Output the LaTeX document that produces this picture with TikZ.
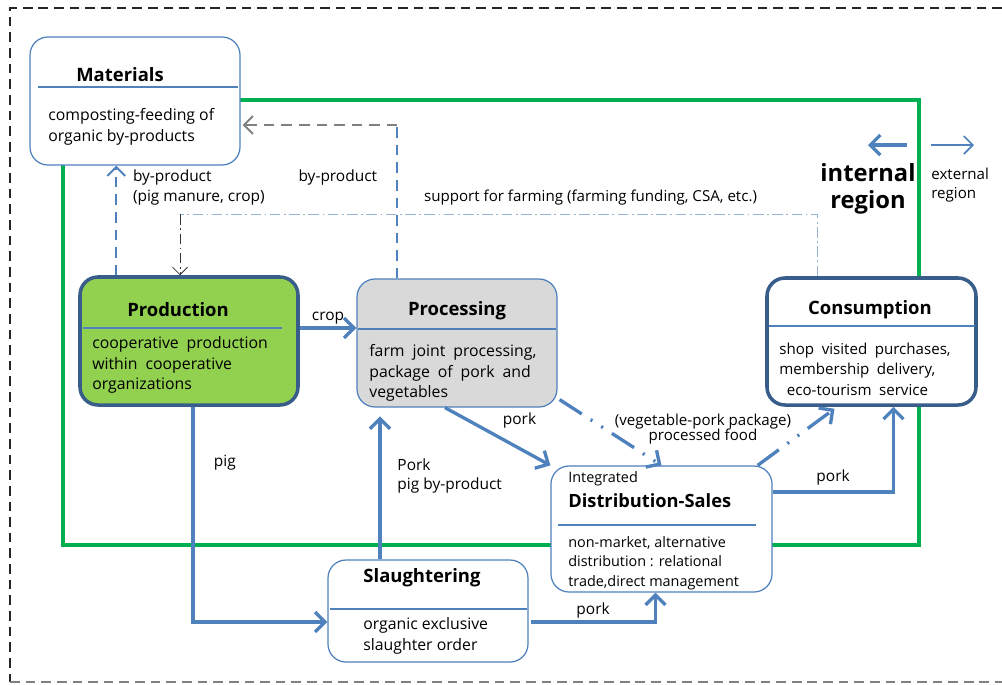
\documentclass[tikz,border=0pt]{standalone}
\usepackage{fontspec}
\setmainfont{Open Sans}
\usetikzlibrary{positioning,calc,arrows.meta,fit}
\definecolor{flowblue}{HTML}{4F81BD}
\definecolor{boxedge}{HTML}{385D8A}
\definecolor{regiongreen}{HTML}{00B050}
\definecolor{prodgreen}{HTML}{92D050}
\definecolor{procgrey}{HTML}{D9D9D9}
\definecolor{supblue}{HTML}{95B3D7}
\newcommand\widewords{\spaceskip=0.5em plus 0.1em\relax}

\begin{document}
\begin{tikzpicture}[x=0.02cm,y=-0.02cm,font=\fontsize{8.8}{11}\selectfont,
    stage/.style={draw=flowblue,rounded corners=0.36cm,inner sep=0pt,line width=0.7pt,fill=white},
    keystage/.style={stage,draw=boxedge,line width=2pt},
    sepline/.style={flowblue,line width=0.7pt},
    title/.style={font=\fontsize{10.5}{12}\selectfont\bfseries},
    body/.style={align=left,anchor=west,inner sep=0pt,font=\fontsize{9}{11.6}\selectfont},
    wide/.style={execute at begin node=\widewords},
    flow/.style={draw=flowblue,line width=1.9pt,-{Straight Barb[length=2mm,width=4mm]}},
    pkgflow/.style={flow,dash pattern=on 15pt off 6pt on 1.2pt off 6pt on 1.2pt off 6pt},
    bpdash/.style={draw=flowblue,line width=1.1pt,dash pattern=on 6pt off 4pt},
    bpend/.style={bpdash,-{Straight Barb[length=1.8mm,width=3.6mm]}},
    support/.style={draw=supblue,line width=0.8pt,dash pattern=on 6pt off 2pt on 1pt off 2pt},
    frame/.style={line width=0.6pt,dash pattern=on 5.5pt off 3.4pt},
    lbl/.style={inner sep=1pt}]
  \useasboundingbox (0,0) rectangle (1002,684);
  % outer frame
  \draw[frame,black!85] (1002,8) -- (10,8) -- (10,682);
  \draw[frame,gray] (10,682) -- (1002,682);
  % internal region
  \draw[regiongreen,line width=1.8pt] (240,100) -- (919,100) -- (919,545) -- (63,545) -- (63,165);

  \node[stage,fit={(30,37) (240,165)}] (mat) {};
  \node[keystage,fill=prodgreen,fit={(80,277) (298,405)}] (prod) {};
  \node[stage,fill=procgrey,fit={(357,279) (557,407)}] (proc) {};
  \node[keystage,fit={(767,278) (976,405)}] (cons) {};
  \node[stage,fit={(551,466) (772,592)}] (dist) {};
  \node[stage,fit={(328,560) (528,662)}] (slau) {};

  \node[title] (mat-t) at (120,75) {Materials};
  \draw[sepline] (38,87) -- (238,87);
  \node[body] (mat-b) at (48,127) {composting-feeding of\\organic by-products};

  \node[title] (prod-t) at (178,310) {Production};
  \draw[sepline] (83,328) -- (282,328);
  \node[body,wide] (prod-b) at (92,365) {cooperative production\\within cooperative\\organizations};

  \node[title] (proc-t) at (457,311) {Processing};
  \draw[sepline] (358,329) -- (556,329);
  \node[body,wide] (proc-b) at (369,373) {farm joint processing,\\package of pork and\\vegetables};

  \node[title] (cons-t) at (870,310) {Consumption};
  \draw[sepline] (769,326) -- (975,326);
  \node[body,wide,font=\fontsize{8.6}{11.6}\selectfont] (cons-b) at (779,369) {shop visited purchases,\\membership delivery,\\\ eco-tourism service};

  \node[body,font=\fontsize{8.2}{10}\selectfont] (dist-i) at (568,479) {Integrated};
  \node[body,font=\fontsize{10.4}{13}\selectfont\bfseries] (dist-t) at (568,501) {Distribution-Sales};
  \draw[sepline] (558,525) -- (756,525);
  \node[body,font=\fontsize{8.2}{11}\selectfont] (dist-b) at (568,563) {non-market, alternative\\distribution : relational\\trade,direct management};

  \node[title] (slau-t) at (422,578) {Slaughtering};
  \draw[sepline] (330,609) -- (527,609);
  \node[body] (slau-b) at (363,636) {organic exclusive\\slaughter order};

  % main flows
  \draw[flow] ($(prod.east)+(0,-13)$) coordinate (cropout) -- (proc.west |- cropout)
    node[midway,above,lbl] (crop-l) {crop};
  \draw[flow] ($(prod.south)+(4,0)$) |- ($(slau.west)+(0,11)$)
    node[pos=0.13,right=10pt,lbl] (pig-l) {pig};
  \draw[flow,shorten >=5pt] ($(slau.north)+(-48,0)$) coordinate (porkup) -- (proc.south -| porkup)
    node[pos=0.55,right=8pt,align=left,lbl] (porkup-l) {Pork\\pig by-product};
  \draw[flow] ($(proc.south)+(-12,0)$) -- (dist.north west)
    node[pos=0.45,above right=1pt and 4pt,lbl] (pork1-l) {pork};
  \draw[flow] ($(slau.east)+(2,11)$) -| ($(dist.south)+(-6,0)$)
    node[pos=0.25,above,lbl] (pork2-l) {pork};
  \draw[flow] ($(dist.east)+(0,-37)$) -| ($(cons.south)+(22,0)$)
    node[pos=0.25,above=2pt,lbl] (pork3-l) {pork};
  % processed food
  \draw[pkgflow] ($(proc.south east)+(2,-8)$) -- (dist.north);
  \draw[pkgflow] ($(dist.north east)+(-15,0)$) -- ($(cons.south)+(-37,2)$);
  \node[align=center,font=\fontsize{8.6}{9}\selectfont,lbl] (pkg-l) at (703,429) {(vegetable-pork package)\\processed food};

  % by-products back to materials
  \draw[bpend] ($(prod.north west)+(38,0)$) coordinate (bp1) -- (mat.south -| bp1)
    node[pos=0.8,right=8pt,align=left,lbl,font=\fontsize{8.8}{11}\selectfont] (bp1-l) {by-product\\(pig manure, crop)};
  \coordinate (matin) at ($(mat.east)+(2,24)$);
  \draw[bpdash] ($(proc.north west)+(41,0)$) coordinate (bp2) -- (bp2 |- matin)
    node[pos=0.66,left=10pt,lbl] (bp2-l) {by-product};
  \draw[bpend,draw=gray] (bp2 |- matin) -- (matin);

  % support for farming
  \coordinate (prodin) at ($(prod.north)+(-9,0)$);
  \draw[support] ($(cons.north)+(-54,0)$) -- ++(0,-62) coordinate (sup2) -- (sup2 -| prodin)
    node[pos=0.356,above=4pt,lbl,font=\fontsize{8.6}{10}\selectfont] (sup-l) {support for farming (farming funding, CSA, etc.)};
  \draw[black!80,line width=0.5pt,dash pattern=on 6pt off 2pt on 1pt off 2pt,-{Straight Barb[length=1.5mm,width=3mm]}] (sup2 -| prodin) -- (prodin);

  % regions
  \node[font=\fontsize{13.5}{15.5}\selectfont\bfseries,align=center] (int-l) at (868,189) {internal\\region};
  \node[align=left,font=\fontsize{8.6}{11.3}\selectfont,anchor=west,inner sep=0pt] (ext-l) at (931,185) {external\\region};
  \coordinate (inarr) at (907,145);
  \coordinate (exarr) at (974,145);
  \draw[flow] (inarr) -- (int-l.north |- inarr);
  \draw[flowblue,line width=1pt,-{Straight Barb[length=1.8mm,width=3.6mm]}] (ext-l.west |- exarr) -- (exarr);
\end{tikzpicture}
\end{document}
